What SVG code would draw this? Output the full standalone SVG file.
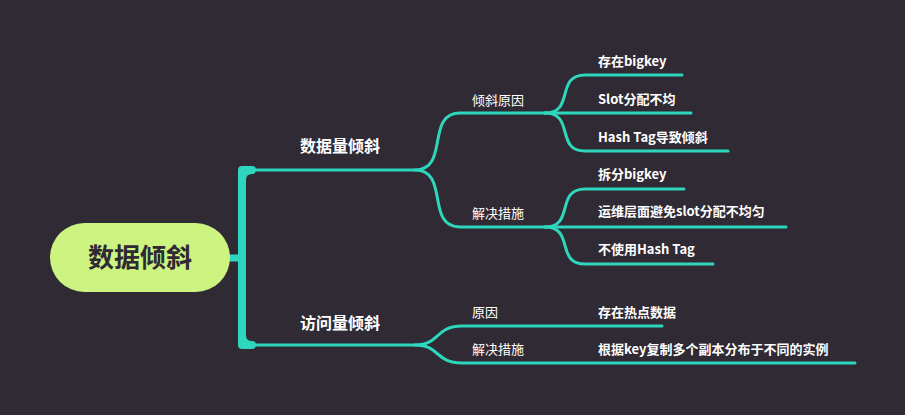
<svg xmlns="http://www.w3.org/2000/svg" width="905" height="415" viewBox="0 0 905 415">
<style>
.c{fill:none;stroke:#2ed6bd;stroke-width:3;stroke-linecap:round}
.t{fill:#fff;font-family:"Noto Sans CJK SC","Noto Sans",sans-serif;font-size:13px}
.b{font-weight:bold;font-size:16px}
.lb{font-weight:600}
</style>
<rect width="905" height="415" fill="#2f2a33"/>
<g id="connectors">
<path d="M228 258H242" stroke="#2ed6bd" stroke-width="7" fill="none"/>
<path d="M242 180Q242 170 252 170H242V345H252Q242 345 242 335Z" stroke="#2ed6bd" stroke-width="8" fill="none" stroke-linejoin="round"/>
<path class="c" d="M246 170H415C450 170 425 113 460 113H545"/>
<path class="c" d="M415 170C450 170 425 227 460 227H545"/>
<path class="c" d="M545 113C575 113 555 75 585 75H682"/>
<path class="c" d="M545 113H691"/>
<path class="c" d="M545 113C575 113 555 151 585 151H728"/>
<path class="c" d="M545 227C575 227 555 189 585 189H684"/>
<path class="c" d="M545 227H786"/>
<path class="c" d="M545 227C575 227 555 264 585 264H713"/>
<path class="c" d="M246 345H415C440 345 435 326 462 326H662"/>
<path class="c" d="M415 345C440 345 435 363 462 363H855"/>
</g>
<g id="root"><rect x="50" y="223" width="180" height="69" rx="34.5" fill="#cdf381"/><text x="140" y="267" text-anchor="middle" font-family="'Noto Sans CJK SC',sans-serif" font-size="26" font-weight="bold" fill="#2f2a33">数据倾斜</text></g>
<g id="n1"><text class="t b" x="300" y="152">数据量倾斜</text></g>
<g id="n2"><text class="t b" x="300" y="329">访问量倾斜</text></g>
<g id="n11"><text class="t" x="472" y="105">倾斜原因</text></g>
<g id="n12"><text class="t" x="472" y="218">解决措施</text></g>
<g id="n111"><text class="t lb" x="598" y="66">存在bigkey</text></g>
<g id="n112"><text class="t lb" x="598" y="104">Slot分配不均</text></g>
<g id="n113"><text class="t lb" x="598" y="142">Hash Tag导致倾斜</text></g>
<g id="n121"><text class="t lb" x="598" y="179">拆分bigkey</text></g>
<g id="n122"><text class="t lb" x="598" y="216">运维层面避免slot分配不均匀</text></g>
<g id="n123"><text class="t lb" x="598" y="254">不使用Hash Tag</text></g>
<g id="n21"><text class="t" x="472" y="317">原因</text></g>
<g id="n211"><text class="t lb" x="598" y="317">存在热点数据</text></g>
<g id="n22"><text class="t" x="472" y="354">解决措施</text></g>
<g id="n221"><text class="t lb" x="598" y="354">根据key复制多个副本分布于不同的实例</text></g>
</svg>
